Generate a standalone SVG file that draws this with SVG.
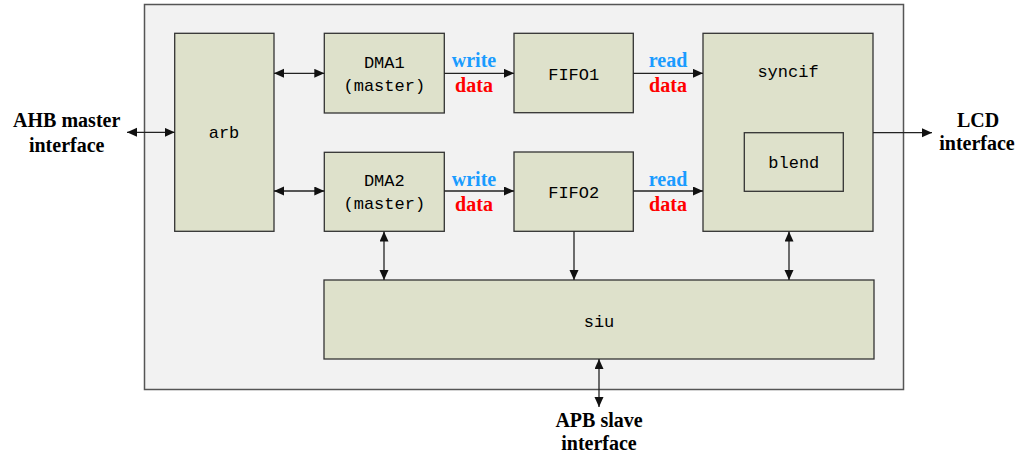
<svg xmlns="http://www.w3.org/2000/svg" width="1025" height="459" viewBox="0 0 1025 459">
<style>
.blk{fill:#dee1cb;stroke:#333;stroke-width:1.3}
.mono{font-family:"Liberation Mono","DejaVu Sans Mono",monospace;font-size:17px;fill:#000;text-anchor:middle}
.lbl{font-family:"Liberation Serif","Times New Roman",serif;font-weight:bold;font-size:20px;text-anchor:middle}
.ext{fill:#000}
.blue{fill:#1a9cff}
.red{fill:#ff0000}
.wire{stroke:#222;stroke-width:1.3;fill:none}
</style>
<defs>
<marker id="ah" markerUnits="userSpaceOnUse" markerWidth="11" markerHeight="10" refX="10" refY="4.5" orient="auto-start-reverse" viewBox="0 0 11 10">
<path d="M0,0 L10,4.5 L0,9 z" fill="#111"/>
</marker>
</defs>
<rect id="outer" x="144.5" y="4.5" width="759" height="385" fill="#f2f2f2" stroke="#555" stroke-width="1.5"/>
<g id="arb"><rect class="blk" x="174.7" y="33.3" width="99.3" height="198"/><text class="mono" x="224" y="138.3">arb</text></g>
<g id="dma1"><rect class="blk" x="324.3" y="33.3" width="120" height="79.7"/><text class="mono" x="384.3" y="67.7">DMA1</text><text class="mono" x="384.3" y="90.7">(master)</text></g>
<g id="dma2"><rect class="blk" x="324.3" y="152.3" width="120" height="79"/><text class="mono" x="384.3" y="185.7">DMA2</text><text class="mono" x="384.3" y="209">(master)</text></g>
<g id="fifo1"><rect class="blk" x="514" y="33.3" width="119.3" height="79.4"/><text class="mono" x="573.7" y="80">FIFO1</text></g>
<g id="fifo2"><rect class="blk" x="514" y="152" width="119.3" height="79.3"/><text class="mono" x="573.7" y="198.3">FIFO2</text></g>
<g id="syncif"><rect class="blk" x="703" y="33.3" width="170" height="198"/><text class="mono" x="788" y="76.7">syncif</text></g>
<g id="blend"><rect x="744.3" y="132.7" width="99" height="58.6" fill="none" stroke="#333" stroke-width="1.3"/><text class="mono" x="793.8" y="168.3">blend</text></g>
<g id="siu"><rect class="blk" x="324" y="280" width="550" height="79"/><text class="mono" x="599" y="326.7">siu</text></g>
<g id="connectors">
<line class="wire" x1="127" y1="132.3" x2="174.7" y2="132.3" marker-start="url(#ah)" marker-end="url(#ah)"/>
<line class="wire" x1="274" y1="73.3" x2="324.3" y2="73.3" marker-start="url(#ah)" marker-end="url(#ah)"/>
<line class="wire" x1="274" y1="191" x2="324.3" y2="191" marker-start="url(#ah)" marker-end="url(#ah)"/>
<line class="wire" x1="444.3" y1="73.3" x2="514" y2="73.3" marker-end="url(#ah)"/>
<line class="wire" x1="444.3" y1="191" x2="514" y2="191" marker-end="url(#ah)"/>
<line class="wire" x1="633.3" y1="73.3" x2="703" y2="73.3" marker-end="url(#ah)"/>
<line class="wire" x1="633.3" y1="191" x2="703" y2="191" marker-end="url(#ah)"/>
<line class="wire" x1="873" y1="132.7" x2="932" y2="132.7" marker-end="url(#ah)"/>
<line class="wire" x1="384" y1="231.5" x2="384" y2="280" marker-start="url(#ah)" marker-end="url(#ah)"/>
<line class="wire" x1="574" y1="231.5" x2="574" y2="280" marker-end="url(#ah)"/>
<line class="wire" x1="789" y1="231.5" x2="789" y2="280" marker-start="url(#ah)" marker-end="url(#ah)"/>
<line class="wire" x1="599" y1="359" x2="599" y2="407" marker-start="url(#ah)" marker-end="url(#ah)"/>
</g>
<g id="labels">
<text class="lbl blue" x="474" y="66.7">write</text>
<text class="lbl red" x="474" y="91.7">data</text>
<text class="lbl blue" x="474" y="185.7">write</text>
<text class="lbl red" x="474" y="210.7">data</text>
<text class="lbl blue" x="668" y="66.7">read</text>
<text class="lbl red" x="668" y="91.7">data</text>
<text class="lbl blue" x="668" y="185.7">read</text>
<text class="lbl red" x="668" y="210.7">data</text>
<text class="lbl ext" x="66.7" y="126.7">AHB master</text>
<text class="lbl ext" x="66.7" y="151.7">interface</text>
<text class="lbl ext" x="978" y="126.7">LCD</text>
<text class="lbl ext" x="977" y="150">interface</text>
<text class="lbl ext" x="599" y="426.7">APB slave</text>
<text class="lbl ext" x="599" y="450">interface</text>
</g>
</svg>
